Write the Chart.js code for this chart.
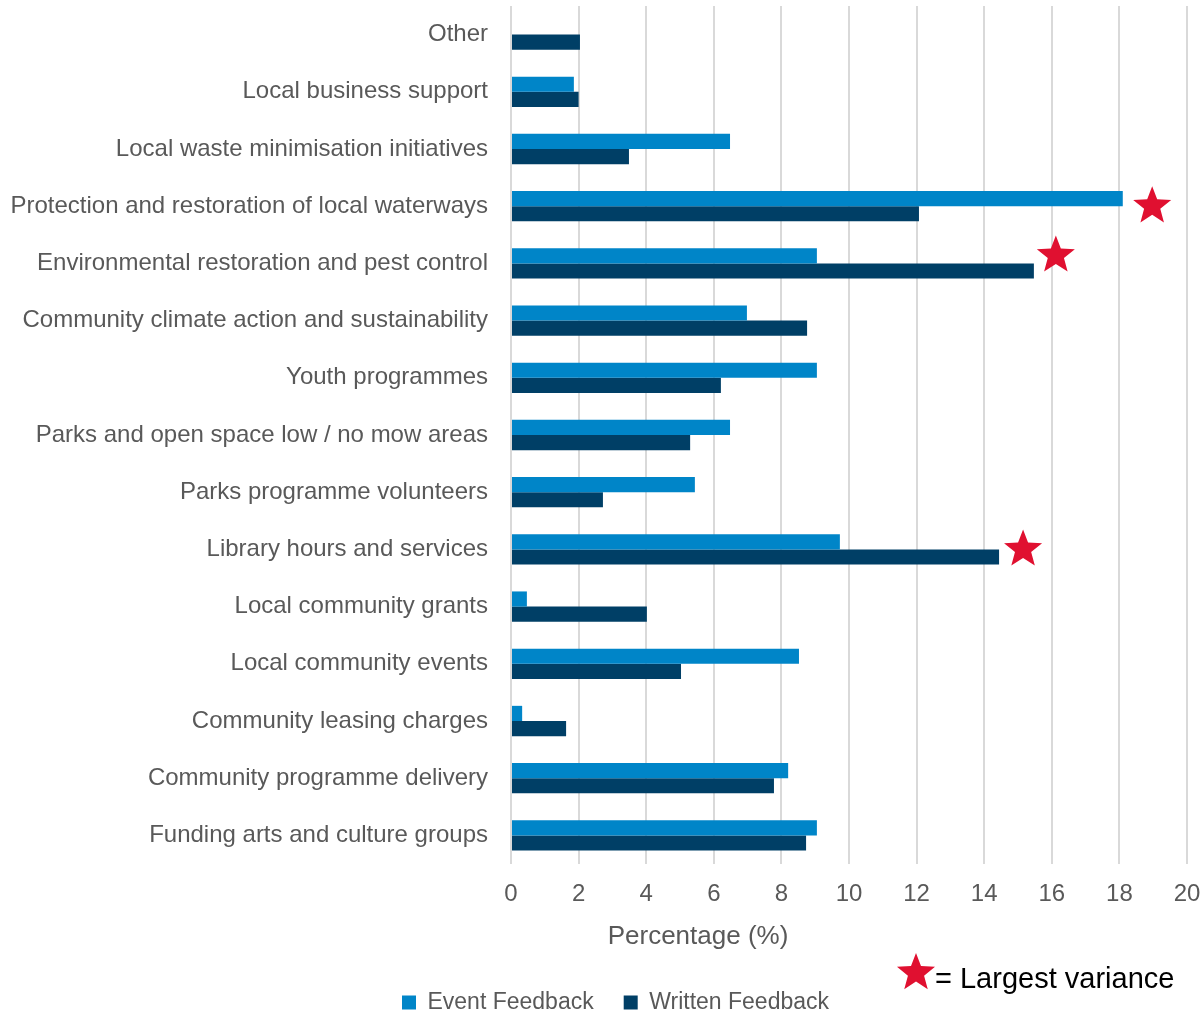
<!DOCTYPE html>
<html>
<head>
<meta charset="utf-8">
<script src="https://cdn.jsdelivr.net/npm/chart.js@4.4.1/dist/chart.umd.min.js"></script>
<style>
  html, body { margin: 0; padding: 0; background: #fff; }
  #wrap { width: 1204px; height: 1014px; position: relative; }
</style>
</head>
<body>
<div id="wrap"><canvas id="chart"></canvas></div>
<script>
// --- data ---
const categories = [
  'Other',
  'Local business support',
  'Local waste minimisation initiatives',
  'Protection and restoration of local waterways',
  'Environmental restoration and pest control',
  'Community climate action and sustainability',
  'Youth programmes',
  'Parks and open space low / no mow areas',
  'Parks programme volunteers',
  'Library hours and services',
  'Local community grants',
  'Local community events',
  'Community leasing charges',
  'Community programme delivery',
  'Funding arts and culture groups'
];
const eventFeedback   = [0, 1.86, 6.48, 18.1, 9.05, 6.98, 9.05, 6.48, 5.44, 9.73, 0.47, 8.52, 0.33, 8.2, 9.05];
const writtenFeedback = [2.04, 2.0, 3.49, 12.07, 15.47, 8.76, 6.21, 5.3, 2.72, 14.44, 4.02, 5.03, 1.63, 7.78, 8.73];
const xTicks = [0, 2, 4, 6, 8, 10, 12, 14, 16, 18, 20];

// stars marking the largest variance (category, x value, y nudge in category units)
const starCategories = ['Protection and restoration of local waterways', 'Environmental restoration and pest control', 'Library hours and services'];
const starValues     = [18.97, 16.12, 15.15];
const starNudge      = [0, -0.14, 0];

const FONT = "'Liberation Sans', Arial, sans-serif";
const GREY = '#595959';
const RED  = '#E01030';

function drawStar(ctx, cx, cy, outer, inner, color) {
  ctx.save();
  ctx.beginPath();
  for (let i = 0; i < 10; i++) {
    const r = i % 2 === 0 ? outer : inner;
    const a = -Math.PI / 2 + i * Math.PI / 5;
    const x = cx + r * Math.cos(a);
    const y = cy + r * Math.sin(a);
    if (i === 0) ctx.moveTo(x, y); else ctx.lineTo(x, y);
  }
  ctx.closePath();
  ctx.fillStyle = color;
  ctx.fill();
  ctx.restore();
}

const starPlugin = {
  id: 'stars',
  afterLayout(chart) {
    // nudge the legend right, the original sits off-centre
    if (chart.legend) {
      chart.legend.left += 22;
      chart.legend.right += 22;
    }
  },
  afterDatasetsDraw(chart) {
    const { ctx, scales } = chart;
    starCategories.forEach((cat, i) => {
      const idx = categories.indexOf(cat);
      const x = scales.x.getPixelForValue(starValues[i]);
      const y = scales.y.getPixelForValue(idx + starNudge[i]);
      drawStar(ctx, x, y, 20, 8.5, RED);
    });

    ctx.save();
    // axis title (placed left of the plot centre, like the original)
    ctx.font = '26px ' + FONT;
    ctx.fillStyle = GREY;
    ctx.textAlign = 'center';
    ctx.textBaseline = 'middle';
    ctx.fillText('Percentage (%)', 698, 937);

    // key: star = Largest variance
    drawStar(ctx, 916, 973, 20, 8.5, RED);
    ctx.font = '29px ' + FONT;
    ctx.fillStyle = '#000';
    ctx.textAlign = 'left';
    ctx.fillText('= Largest variance', 935, 980);
    ctx.restore();
  }
};

new Chart(document.getElementById('chart'), {
  type: 'bar',
  data: {
    labels: categories,
    datasets: [
      {
        label: 'Event Feedback',
        data: eventFeedback,
        backgroundColor: '#0085C8',
        borderWidth: 0,
        barPercentage: 1.0,
        categoryPercentage: 0.53
      },
      {
        label: 'Written Feedback',
        data: writtenFeedback,
        backgroundColor: '#003F66',
        borderWidth: 0,
        barPercentage: 1.0,
        categoryPercentage: 0.53
      }
    ]
  },
  options: {
    indexAxis: 'y',
    responsive: true,
    maintainAspectRatio: false,
    animation: false,
    layout: { padding: { top: 6, right: 17, left: 0, bottom: -10 } },
    plugins: {
      tooltip: { enabled: false },
      legend: {
        position: 'bottom',
        labels: {
          font: { family: FONT, size: 23 },
          color: GREY,
          boxWidth: 14,
          boxHeight: 14,
          padding: 30
        }
      }
    },
    scales: {
      x: {
        min: 0,
        max: 20,
        afterBuildTicks: scale => { scale.ticks = xTicks.map(v => ({ value: v })); },
        afterFit: scale => {
          scale.height = 97;
          scale.paddingLeft = 0;
          scale.paddingRight = 0;
        },
        grid: { color: '#D9D9D9', lineWidth: 2, drawTicks: false },
        border: { display: false },
        ticks: { font: { family: FONT, size: 24 }, color: GREY, padding: 16, maxRotation: 0 }
      },
      y: {
        afterFit: scale => {
          scale.width = 511;
          scale.paddingTop = 0;
          scale.paddingBottom = 0;
        },
        grid: { display: false, drawTicks: false },
        border: { display: false },
        ticks: { font: { family: FONT, size: 24 }, color: GREY, padding: 23, autoSkip: false }
      }
    }
  },
  plugins: [starPlugin]
});
</script>
</body>
</html>
